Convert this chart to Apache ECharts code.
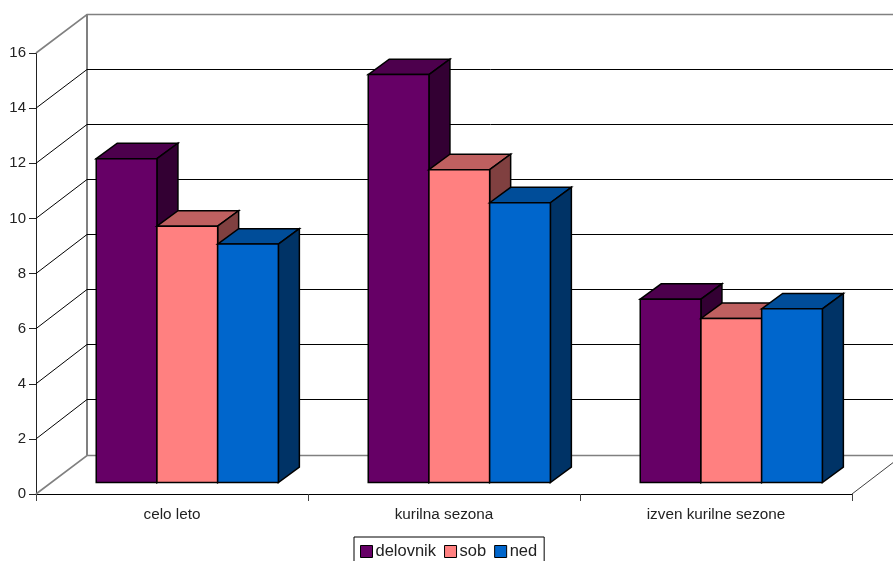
<!DOCTYPE html>
<html>
<head>
<meta charset="utf-8">
<style>html,body{margin:0;padding:0;background:#fff}#chart{width:893px;height:561px}</style>
<script src="https://cdn.jsdelivr.net/npm/echarts@6/dist/echarts.min.js"></script>
</head>
<body>
<div id="chart"></div>
<script>
// Values per heating-period category
const categories = ['celo leto', 'kurilna sezona', 'izven kurilne sezone'];
const delovnik = [11.75, 14.8, 6.65];
const sob = [9.3, 11.35, 5.95];
const ned = [8.65, 10.15, 6.3];
const yTicks = [0, 2, 4, 6, 8, 10, 12, 14, 16];

// Oblique projection of the 3D box, in pixels
const WALL_DX = 51, WALL_DY = -39;   // front plane to back wall
const BAR_DX = 15.3, BAR_DY = -11.5; // front plane to bar front face
const DEPTH_DX = 21, DEPTH_DY = -15.4; // bar front face to bar back face
const BAR_RATIO = 0.2232;            // bar width over category width

const FONT = '"Liberation Sans", Arial, sans-serif';
const shades = {
  delovnik: { front: '#660066', top: '#4d004d', side: '#330033' },
  sob: { front: '#ff8080', top: '#bf6060', side: '#804040' },
  ned: { front: '#0066cc', top: '#004d99', side: '#003366' }
};

function wallItem(params, api) {
  const tick = api.value(0);
  const cs = params.coordSys;
  const y = api.coord([0, tick])[1];
  const x0 = cs.x, x1 = cs.x + cs.width;
  const edge = tick === 0 || tick === 16;
  const stroke = { stroke: edge ? '#808080' : '#000', lineWidth: edge ? 1.6 : 1, fill: null };
  // Back-wall lines sit on whole pixel rows so they stay crisp
  const backY = Math.floor(y + WALL_DY) + 0.5;
  const children = [
    { type: 'polyline', shape: { points: [[x0, y], [x0 + WALL_DX, backY], [x1 + WALL_DX, backY]] }, style: stroke }
  ];
  if (tick === 0) {
    children.push({ type: 'line', shape: { x1: x1, y1: y, x2: x1 + WALL_DX, y2: y + WALL_DY }, style: { stroke: '#404040', lineWidth: 1 } });
    children.push({ type: 'line', shape: { x1: x0 + WALL_DX, y1: y + WALL_DY, x2: x0 + WALL_DX, y2: cs.y + WALL_DY }, style: { stroke: '#808080', lineWidth: 2 } });
  }
  return { type: 'group', children };
}

function barRenderer(pos, colors) {
  return function (params, api) {
    const center = api.coord([api.value(0), api.value(1)]);
    const base = api.coord([api.value(0), 0]);
    const band = api.size([1, 0])[0];
    const w = band * BAR_RATIO;
    const l = center[0] + BAR_DX + (pos - 1.5) * w;
    const r = l + w;
    const t = center[1] + BAR_DY;
    const b = base[1] + BAR_DY;
    const line = { stroke: '#000', lineWidth: 1.5, lineJoin: 'miter' };
    const poly = (points, fill) => ({ type: 'polygon', shape: { points }, style: Object.assign({ fill }, line) });
    return {
      type: 'group',
      children: [
        poly([[l, t], [l + DEPTH_DX, t + DEPTH_DY], [r + DEPTH_DX, t + DEPTH_DY], [r, t]], colors.top),
        poly([[r, t], [r + DEPTH_DX, t + DEPTH_DY], [r + DEPTH_DX, b + DEPTH_DY], [r, b]], colors.side),
        poly([[l, t], [r, t], [r, b], [l, b]], colors.front)
      ]
    };
  };
}

function barSeries(name, values, pos) {
  return {
    name,
    type: 'custom',
    silent: true,
    clip: false,
    itemStyle: { color: shades[name].front },
    renderItem: barRenderer(pos, shades[name]),
    encode: { x: 0, y: 1 },
    data: values.map((v, i) => [i, v])
  };
}

const chart = echarts.init(document.getElementById('chart'), null, { renderer: 'canvas' });
chart.setOption({
  animation: false,
  backgroundColor: '#fff',
  grid: { left: 36, right: 41, top: 53, bottom: 67 },
  xAxis: {
    type: 'category',
    data: categories,
    boundaryGap: true,
    axisLine: { show: true, lineStyle: { color: '#000', width: 1 } },
    axisTick: { show: true, alignWithLabel: false, length: 7, lineStyle: { color: '#404040', width: 1 } },
    axisLabel: { color: '#222', fontFamily: FONT, fontSize: 15.3, margin: 13, interval: 0 },
    splitLine: { show: false }
  },
  yAxis: {
    type: 'value',
    min: 0,
    max: 16,
    interval: 2,
    axisLine: { show: true, lineStyle: { color: '#222', width: 1 } },
    axisTick: { show: true, length: 7, lineStyle: { color: '#222', width: 1 } },
    axisLabel: { color: '#222', fontFamily: FONT, fontSize: 15, margin: 10, padding: [2, 0, 0, 0] },
    splitLine: { show: false }
  },
  legend: {
    left: 354,
    top: 537,
    orient: 'horizontal',
    padding: [6, 7, 12, 6],
    itemGap: 8,
    itemWidth: 12,
    itemHeight: 12,
    borderColor: '#000',
    borderWidth: 1,
    borderRadius: 0,
    backgroundColor: '#fff',
    selectedMode: false,
    textStyle: { fontFamily: FONT, fontSize: 16.5, color: '#222', padding: [1, 0, 0, -2] },
    data: ['delovnik', 'sob', 'ned'].map(name => ({
      name,
      icon: 'rect',
      itemStyle: { color: shades[name].front, borderColor: '#000', borderWidth: 1 }
    }))
  },
  series: [
    {
      name: 'walls',
      type: 'custom',
      silent: true,
      clip: false,
      renderItem: wallItem,
      encode: { y: 0 },
      data: yTicks.map(v => [v])
    },
    barSeries('delovnik', delovnik, 0),
    barSeries('sob', sob, 1),
    barSeries('ned', ned, 2)
  ]
});
</script>
</body>
</html>
